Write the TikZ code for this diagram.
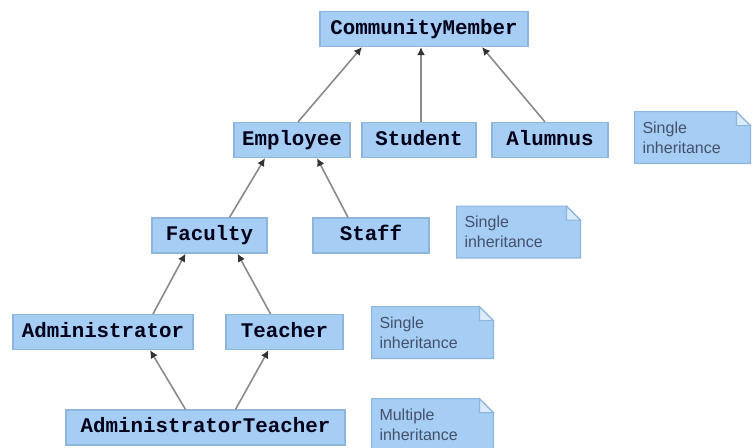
\documentclass[tikz,border=0pt]{standalone}
\usepackage{fontspec}
\setmainfont{Liberation Sans}
\setmonofont{Liberation Mono}
\usetikzlibrary{arrows.meta,backgrounds}

\definecolor{boxblue}{HTML}{A6CDF4}
\definecolor{boxedge}{HTML}{8DB5DD}
\definecolor{linegray}{HTML}{8A8A8A}
\definecolor{notetext}{HTML}{44516C}

\tikzset{
  cls/.style={fill=boxblue, draw=boxedge, line width=0.6pt, minimum height=17.5pt,
    inner sep=0pt, text height=7pt, text depth=2pt,
    font=\fontsize{10.4}{12}\selectfont\ttfamily\bfseries, text=black!90!blue},
  notebox/.style={minimum height=25.5pt, inner sep=0pt, text width=#1, align=left,
    font=\fontsize{8}{10}\selectfont, text=notetext},
  isa/.style={draw=linegray, line width=0.8pt, -{Latex[length=4pt,width=4pt,color=black!80]}},
}

\begin{document}
\begin{tikzpicture}[x=0.5pt, y=-0.5pt]

    % frame
    \useasboundingbox (0,0) rectangle (754,447);

    % classes
    \node[cls, minimum width=104pt]   (cm)    at (424,29)      {CommunityMember};
    \node[cls, minimum width=58pt]    (emp)   at (292,140)     {Employee};
    \node[cls, minimum width=57pt]    (stu)   at (419,140)     {Student};
    \node[cls, minimum width=58pt]    (alu)   at (550,140)     {Alumnus};
    \node[cls, minimum width=57.5pt]  (fac)   at (209.5,235.5) {Faculty};
    \node[cls, minimum width=58pt]    (staff) at (371,235.5)   {Staff};
    \node[cls, minimum width=90pt]    (adm)   at (103,332)     {Administrator};
    \node[cls, minimum width=58.5pt]  (tea)   at (284.5,332)   {Teacher};
    \node[cls, minimum width=139.5pt] (admtea) at (205.5,427.5) {AdministratorTeacher};

    % notes
    \node[notebox=50pt, minimum width=57.5pt] (note1) at (692.5,137.5) {Single\\inheritance};
    \node[notebox=54pt, minimum width=61.5pt] (note2) at (518.5,232)   {Single\\inheritance};
    \node[notebox=53pt, minimum width=60.5pt] (note3) at (432.5,332.5) {Single\\inheritance};
    \node[notebox=53pt, minimum width=60.5pt] (note4) at (432.5,424.5) {Multiple\\inheritance};

    \begin{scope}[on background layer]
      \foreach \n in {note1,note2,note3,note4} {
        \filldraw[fill=boxblue, draw=boxedge, line width=0.6pt]
          (\n.north west) -- ([xshift=-7pt]\n.north east) -- ([yshift=-7pt]\n.north east)
          -- (\n.south east) -- (\n.south west) -- cycle;
        \filldraw[fill=boxblue!40, draw=boxedge, line width=0.6pt]
          ([xshift=-7pt]\n.north east) -- ([xshift=-7pt,yshift=-7pt]\n.north east)
          -- ([yshift=-7pt]\n.north east) -- cycle;
      }
    \end{scope}

    % generalisations
    \draw[isa] ([xshift=3pt]emp.north)    -- ([xshift=-31pt]cm.south);
    \draw[isa] ([xshift=1pt]stu.north)    -- ([xshift=-1.5pt]cm.south);
    \draw[isa] ([xshift=-2.5pt]alu.north) -- ([xshift=29pt]cm.south);

    \draw[isa] ([xshift=10pt]fac.north)     -- ([xshift=-13.5pt]emp.south);
    \draw[isa] ([xshift=-11.5pt]staff.north) -- ([xshift=12.5pt]emp.south);

    \draw[isa] ([xshift=25pt]adm.north) -- ([xshift=-12pt]fac.south);
    \draw[isa] ([xshift=-7pt]tea.north) -- ([xshift=14pt]fac.south);

    \draw[isa] ([xshift=-10pt]admtea.north) -- ([xshift=23.5pt]adm.south);
    \draw[isa] ([xshift=15pt]admtea.north)  -- ([xshift=-8pt]tea.south);

\end{tikzpicture}
\end{document}
